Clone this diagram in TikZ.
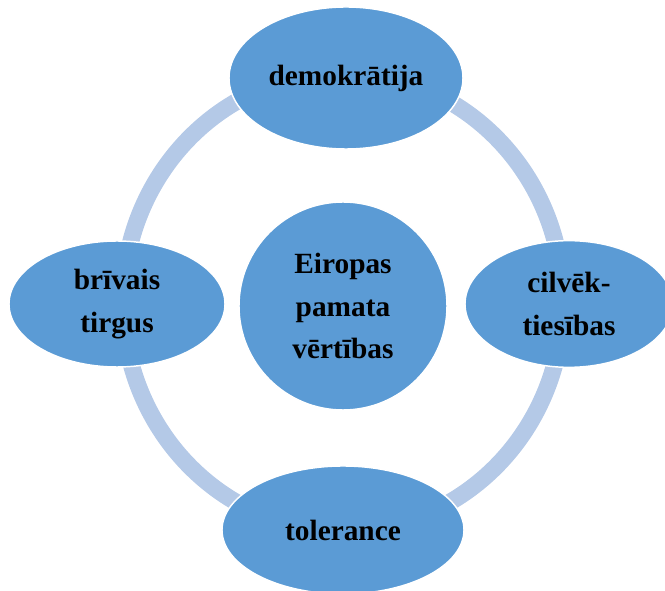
\documentclass[tikz,border=0pt]{standalone}
\usepackage{fontspec}
\setmainfont{Liberation Serif}
\usetikzlibrary{shapes.geometric}
\definecolor{nodeblue}{HTML}{5B9BD5}
\definecolor{ringblue}{HTML}{B4C9E7}
\tikzset{
    value/.style={ellipse, fill=nodeblue, draw=white, line width=1.1pt, inner sep=0pt,
        align=center, font=\fontsize{22}{32}\selectfont\bfseries},
}

\begin{document}
\begin{tikzpicture}[x=0.75pt, y=-0.75pt]
        \useasboundingbox (0, 0) rectangle (665, 591);
        \clip (0, 0) rectangle (665, 591);
        % Draw the ring behind the values
        \draw[ringblue, line width=12.75pt] (343, 302) ellipse [x radius=165pt, y radius=171.75pt];
        
        % Draw the centre and the four values
        \node[value, circle, minimum size=156pt] (centre) at (343, 306) {Eiropas\\pamata\\vērtības};
        \node[value, minimum width=175.5pt, minimum height=106.5pt] (dem) at (346, 78) {demokrātija};
        \node[value, minimum width=162pt, minimum height=94.5pt] (brivais) at (117, 304) {brīvais\\tirgus};
        \node[value, minimum width=156pt, minimum height=95pt] (cilvek) at (569, 304) {cilvēk-\\tiesības};
        \node[value, minimum width=181.5pt, minimum height=96pt] (tol) at (343, 530) {tolerance};
    \end{tikzpicture}
\end{document}
